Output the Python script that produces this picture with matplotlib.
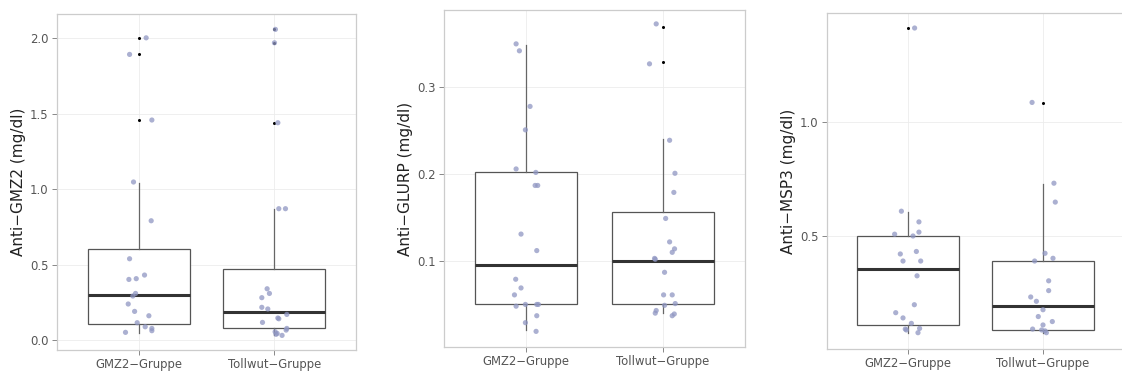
import matplotlib
matplotlib.use('Agg')
import matplotlib.pyplot as plt

plt.rcParams['font.family'] = ['DejaVu Sans']

groups = ['GMZ2\u2212Gruppe', 'Tollwut\u2212Gruppe']

# Anti-GMZ2
gmz2_a_vals = [2.004, 1.894, 1.459, 1.048, 0.791, 0.539, 0.402, 0.407, 0.431, 0.309,
               0.292, 0.239, 0.190, 0.161, 0.115, 0.088, 0.077, 0.062, 0.051]
gmz2_a_jit = [0.056, -0.066, 0.098, -0.037, 0.093, -0.066, -0.071, -0.017, 0.044, -0.022,
              -0.042, -0.076, -0.029, 0.076, -0.010, 0.049, 0.098, 0.098, -0.096]
gmz2_b_vals = [2.060, 1.971, 1.441, 0.871, 0.871, 0.340, 0.309, 0.281, 0.217, 0.206,
               0.170, 0.146, 0.141, 0.117, 0.077, 0.066, 0.055, 0.044, 0.038, 0.031]
gmz2_b_jit = [0.007, 0.0, 0.025, 0.032, 0.081, -0.054, -0.037, -0.093, -0.093, -0.049,
              0.091, 0.025, 0.032, -0.088, 0.091, 0.086, 0.005, 0.020, 0.012, 0.056]
gmz2_box = [dict(whislo=0.048, q1=0.104, med=0.296, q3=0.601, whishi=1.043,
                 fliers=[2.0, 1.90, 1.457]),
            dict(whislo=0.031, q1=0.080, med=0.188, q3=0.469, whishi=0.869,
                 fliers=[2.06, 1.97, 1.44])]

# Anti-GLURP
glurp_a_vals = [0.350, 0.342, 0.278, 0.251, 0.206, 0.202, 0.187, 0.187, 0.131, 0.112,
                0.079, 0.069, 0.061, 0.048, 0.050, 0.050, 0.050, 0.037, 0.029, 0.019]
glurp_a_jit = [-0.073, -0.049, 0.029, -0.005, -0.073, 0.071, 0.066, 0.085, -0.037, 0.078,
               -0.076, -0.037, -0.085, -0.073, -0.005, 0.078, 0.090, 0.078, -0.005, 0.073]
glurp_b_vals = [0.373, 0.327, 0.239, 0.201, 0.179, 0.149, 0.122, 0.114, 0.110, 0.103,
                0.102, 0.087, 0.061, 0.061, 0.049, 0.051, 0.043, 0.040, 0.037, 0.039]
glurp_b_jit = [-0.049, -0.098, 0.049, 0.088, 0.080, 0.020, 0.049, 0.085, 0.068, -0.061,
               -0.056, 0.012, 0.005, 0.068, 0.012, 0.090, -0.049, -0.056, 0.068, 0.083]
glurp_box = [dict(whislo=0.021, q1=0.050, med=0.095, q3=0.202, whishi=0.349, fliers=[]),
             dict(whislo=0.040, q1=0.050, med=0.0996, q3=0.157, whishi=0.240,
                  fliers=[0.369, 0.329])]

# Anti-MSP3
msp3_a_vals = [1.415, 0.610, 0.563, 0.518, 0.509, 0.501, 0.433, 0.422, 0.391, 0.391,
               0.326, 0.199, 0.164, 0.141, 0.117, 0.092, 0.088, 0.095, 0.076]
msp3_a_jit = [0.049, -0.049, 0.081, 0.081, -0.099, 0.037, 0.062, -0.057, -0.037, 0.094,
              0.067, 0.047, -0.091, -0.037, 0.025, -0.020, -0.012, 0.086, 0.074]
msp3_b_vals = [1.088, 0.733, 0.650, 0.425, 0.403, 0.391, 0.304, 0.261, 0.233, 0.214,
               0.177, 0.147, 0.125, 0.110, 0.092, 0.088, 0.076, 0.084]
msp3_b_jit = [-0.081, 0.081, 0.091, 0.015, 0.074, -0.062, 0.042, 0.042, -0.091, -0.049,
              0.0, -0.035, 0.069, 0.0, -0.077, -0.010, 0.025, 0.015]
msp3_box = [dict(whislo=0.076, q1=0.1085, med=0.355, q3=0.500, whishi=0.608,
                 fliers=[1.415]),
            dict(whislo=0.076, q1=0.0894, med=0.195, q3=0.391, whishi=0.729,
                 fliers=[1.085])]

panels = [
    ('Anti\u2212GMZ2 (mg/dl)', gmz2_box, gmz2_a_vals, gmz2_a_jit, gmz2_b_vals, gmz2_b_jit,
     (-0.066, 2.162), [0.0, 0.5, 1.0, 1.5, 2.0], '%.1f'),
    ('Anti\u2212GLURP (mg/dl)', glurp_box, glurp_a_vals, glurp_a_jit, glurp_b_vals, glurp_b_jit,
     (0.001, 0.389), [0.1, 0.2, 0.3], '%.1f'),
    ('Anti\u2212MSP3 (mg/dl)', msp3_box, msp3_a_vals, msp3_a_jit, msp3_b_vals, msp3_b_jit,
     (0.0044, 1.481), [0.5, 1.0], '%.1f'),
]

# axes rectangles in pixels: left, right, top, bottom
rects_px = [(57, 356, 14, 350), (444, 745, 10, 347), (827, 1124, 13, 349)]
W, H = 1122, 374

fig = plt.figure(figsize=(W / 100, H / 100), dpi=100)

for (ylab, box, a_v, a_j, b_v, b_j, ylim, ticks, fmt), (l, r, t, b) in zip(panels, rects_px):
    ax = fig.add_axes([l / W, 1 - b / H, (r - l) / W, (b - t) / H])
    ax.set_axisbelow(True)
    ax.grid(True, color='#ececec', lw=0.6)

    ax.bxp(box, positions=[1, 2], widths=0.75, showcaps=False, patch_artist=True,
           boxprops=dict(facecolor='white', edgecolor='#555555', lw=0.9),
           whiskerprops=dict(color='#666666', lw=0.9),
           medianprops=dict(color='#333333', lw=2.2),
           flierprops=dict(marker='o', markersize=2.2, markerfacecolor='black',
                           markeredgecolor='none'))

    ax.scatter([1 + j for j in a_j], a_v, s=14, color='#8f96c2', alpha=0.75,
               edgecolors='none', zorder=4)
    ax.scatter([2 + j for j in b_j], b_v, s=14, color='#8f96c2', alpha=0.75,
               edgecolors='none', zorder=4)

    ax.set_xlim(0.4, 2.6)
    ax.set_ylim(*ylim)
    ax.set_xticks([1, 2])
    ax.set_xticklabels(groups)
    ax.set_yticks(ticks)
    ax.set_yticklabels([fmt % v for v in ticks])
    ax.tick_params(colors='#888888', labelcolor='#555555', labelsize=8.4,
                   length=3.5, width=0.7, pad=2.5)
    for sp in ax.spines.values():
        sp.set_color('#cccccc')
        sp.set_linewidth(0.9)
    ax.set_ylabel(ylab, fontsize=11, color='#222222', labelpad=3)

fig.savefig('out.png', dpi=100)
